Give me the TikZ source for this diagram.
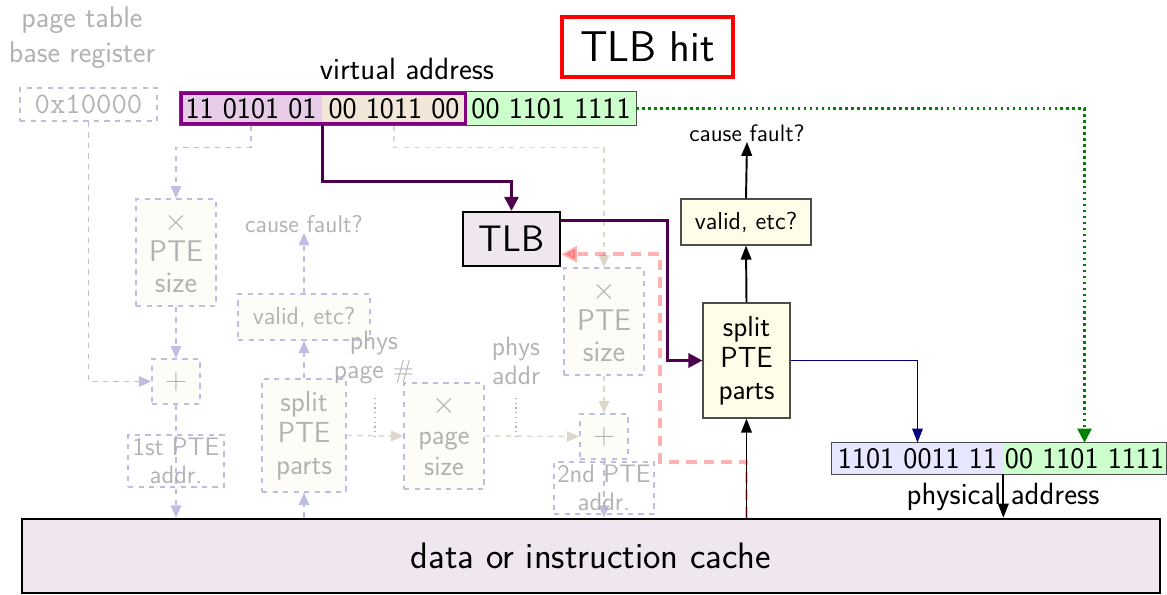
\documentclass[tikz,border=0pt]{standalone}
\usetikzlibrary{arrows.meta,calc}
\definecolor{lav}{RGB}{190,190,226}
\definecolor{beig}{RGB}{222,214,200}
\definecolor{fadetext}{RGB}{178,178,178}
\definecolor{fadefill}{RGB}{253,252,246}
\definecolor{dpurple}{RGB}{77,0,77}
\definecolor{vpurple}{RGB}{128,0,128}
\definecolor{vafill}{RGB}{230,204,230}
\definecolor{vbfill}{RGB}{242,230,217}
\definecolor{gfill}{RGB}{204,255,204}
\definecolor{pbfill}{RGB}{230,230,255}
\definecolor{tlbfill}{RGB}{240,230,240}
\definecolor{yfill}{RGB}{255,252,232}
\definecolor{navy}{RGB}{0,0,128}
\definecolor{dgreen}{RGB}{0,128,0}
\tikzset{
  wh/.style 2 args={minimum width=#1*0.02cm, minimum height=#2*0.02cm},
  fs/.style 2 args={font=\sffamily\fontsize{#1}{#2}\selectfont},
  fadebox/.style={draw=lav, dashed, line width=0.8pt, fill=fadefill, text=fadetext, inner sep=0pt, align=center},
  fadelabel/.style={draw=lav, dashed, line width=0.8pt, text=fadetext, inner sep=0pt, align=center},
  fadetxt/.style={text=fadetext, inner sep=0pt, align=center},
  lavarrow/.style={draw=lav, dashed, line width=0.8pt, -{Triangle[length=7pt,width=6pt]}},
  beigarrow/.style={draw=beig, dashed, line width=0.8pt, -{Triangle[length=7pt,width=6pt]}},
  solidbox/.style={draw=black!70, line width=0.6pt, fill=yfill, inner sep=0pt, align=center},
  blk/.style={draw=black, line width=1.1pt, -{Triangle[length=8pt,width=6pt]}},
  purparrow/.style={draw=dpurple, line width=1.7pt, -{Triangle[length=8pt,width=8pt]}},
  bits/.style={inner sep=0pt, fs={17}{20}},
}
\begin{document}
\begin{tikzpicture}[x=0.02cm,y=-0.02cm]
\useasboundingbox (0,0) rectangle (1167,595);

% ---------- faded page-table walk ----------
\node[fadetxt, fs={17}{20}] (ptbrlbl) at (82,38) {page table\\base register};
\node[fadebox, fill=none, wh={137}{33}, font=\ttfamily\fontsize{17}{20}\selectfont] (reg) at (88.5,104.5) {0x10000};

% virtual address (needed for anchors)
\node[bits, fill=vafill, wh={142}{33}] (va1) at (251,108.5) {11 0101 01};
\node[bits, fill=vbfill, wh={144}{33}] (va2) at (394,108.5) {00 1011 00};
\node[bits, fill=gfill, wh={170}{33}] (va3) at (551,108.5) {00 1101 1111};
\draw[vpurple, line width=1.7pt] ($(va1.north west)+(2,1.5)$) rectangle ($(va2.south east)+(-1,-1.5)$);
\node[fs={17.5}{20}] (valbl) at (407,69) {virtual address};

\node[fadebox, wh={80}{107}, fs={17}{17.6}] (pte1) at (176,252.5) {$\times$\\PTE\\size};
\node[fadebox, wh={48}{45}, fs={17}{20}] (plus1) at (176,381.5) {$+$};
\node[fadebox, wh={84}{113}, fs={16.5}{18}] (fsplit) at (304,435.5) {split\\PTE\\parts};
\node[fadebox, wh={132}{46}, fs={14}{16}] (fvalid) at (304,317) {valid, etc?};
\node[fadetxt, fs={13.8}{16}] (fcause) at (304,224) {cause fault?};
\node[fadebox, wh={80}{106}, fs={16}{17.6}] (fmul) at (444,436) {$\times$\\page\\size};
\node[fadebox, wh={48}{45}, fs={17}{20}] (plus2) at (604,436.5) {$+$};
\node[fadebox, wh={80}{107}, fs={17}{17.6}] (pte2) at (604,321.5) {$\times$\\PTE\\size};
\node[fadetxt, fs={15}{16.5}] (ppn) at (374,358) {phys\\page \#};
\node[fadetxt, fs={15}{16.5}] (paddr) at (516,361) {phys\\addr};

% cache box
\node[draw=black, line width=1.5pt, fill=tlbfill, wh={1138}{74}, inner sep=0pt, fs={21}{24}] (cache) at (591,556) {data or instruction cache};

% faded connectors
\draw[lavarrow] (reg.south) |- (plus1.west);
\draw[lavarrow] (va1.south) -- ++(0,22) -| (pte1.north);
\draw[lavarrow] (pte1.south) -- (plus1.north);
\draw[lavarrow] (plus1.south) -- (plus1.south |- cache.north);
\draw[lavarrow] (fsplit.south |- cache.north) -- (fsplit.south);
\draw[lavarrow] (fsplit.north) -- (fvalid.south);
\draw[lavarrow] (fvalid.north) -- (fcause.south);
\draw[beigarrow] (fsplit.east) -- (fmul.west);
\draw[beigarrow] (fmul.east) -- (plus2.west);
\draw[beigarrow] (va2.south) -- ++(0,22) -| (pte2.north);
\draw[beigarrow] (pte2.south) -- (plus2.north);
\draw[lavarrow] (plus2.south) -- (plus2.south |- cache.north);
\coordinate (ppnpin) at (375,437);
\coordinate (paddrpin) at (516,437);
\draw[fadetext, dotted, line width=0.7pt] (ppnpin) -- ++(0,-39);
\draw[fadetext, dotted, line width=0.7pt] (paddrpin) -- ++(0,-39);
\node[fadelabel, wh={96}{52}, fs={14.4}{16}] (pte1addr) at (176,461) {1st PTE\\addr.};
\node[fadelabel, wh={100}{52}, fs={14.4}{16}] (pte2addr) at (604,488) {2nd PTE\\addr.};

% ---------- TLB hit path ----------
\node[draw=red, line width=1.8pt, wh={171}{60}, inner sep=0pt, fs={24.5}{28}] (title) at (647.5,47) {TLB hit};
\draw[black!70, line width=0.6pt] (va1.north west) rectangle (va3.south east);

\node[draw=black, line width=1.3pt, fill=tlbfill, wh={97}{54}, inner sep=0pt, fs={21}{24}] (tlb) at (511.5,239) {TLB};
\node[solidbox, wh={87}{115}, fs={16.5}{18}] (split) at (746.5,360.5) {split\\PTE\\parts};
\node[solidbox, wh={130}{46}, fs={14}{16}] (valid) at (746,222) {valid, etc?};
\node[inner sep=0pt, fs={13.5}{16}] (cause) at (747,133) {cause fault?};

\node[bits, fill=pbfill, wh={171}{31}] (pa1) at (917.5,458.5) {1101 0011 11};
\node[bits, fill=gfill, wh={163}{31}] (pa2) at (1084.5,458.5) {00 1101 1111};
\draw[black!70, line width=0.6pt] (pa1.north west) rectangle (pa2.south east);
\node[inner sep=0pt, fs={17.5}{20}] (palbl) at (1003,497) {physical address};

\draw[purparrow] (va1.south east) -- ++(0,56) -| (tlb.north);
\draw[purparrow] ($(tlb.north east)+(0,10)$) -- ++(106,0) |- (split.west);
\draw[blk] (split.north) -- (valid.south);
\draw[blk] (valid.north) -- (cause.south);
\draw[blk] (split.south |- cache.north) -- (split.south);
\draw[red, opacity=0.3, dashed, dash pattern=on 6pt off 4pt, line width=2.2pt, -{Triangle[length=9pt,width=9pt]}]
  (split.south |- cache.north) |- (660,462) |- ($(tlb.south east)+(0,-13)$);
\draw[navy, line width=0.9pt, -{Triangle[length=8pt,width=6pt]}] (split.east) -| (pa1.north);
\draw[dgreen, dotted, line width=1.4pt, -{Triangle[length=8pt,width=8pt]}] (va3.east) -| (pa2.north);
\draw[blk] (pa1.south east) -- (pa1.south east |- cache.north);
\end{tikzpicture}
\end{document}
